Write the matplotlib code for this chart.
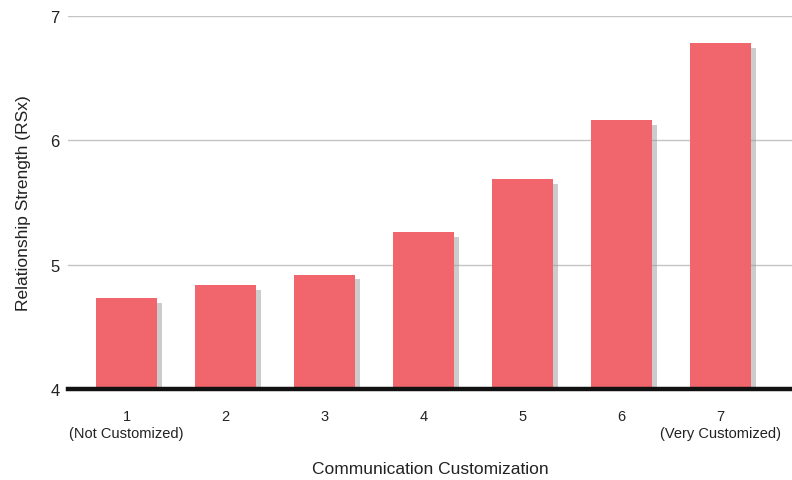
import matplotlib
matplotlib.use("Agg")
import matplotlib.pyplot as plt
import matplotlib.patheffects as pe
import numpy as np

categories = ["1", "2", "3", "4", "5", "6", "7"]
sublabels = ["(Not Customized)", "", "", "", "", "", "(Very Customized)"]
values = [4.73, 4.835, 4.92, 5.26, 5.69, 6.16, 6.78]
yticks = [4, 5, 6, 7]

plt.rcParams['font.family'] = ['Liberation Sans', 'DejaVu Sans']

fig = plt.figure(figsize=(7.92, 4.81), dpi=100)
ax = fig.add_axes([0.0859, 0.189, 0.9141, 0.7757])

x = np.arange(len(categories))
bars = ax.bar(x, np.array(values) - 4, bottom=4, width=0.62, color="#F0666C",
              zorder=3, linewidth=0)
for b in bars:
    b.set_path_effects([pe.SimplePatchShadow(offset=(3.4, -3.4), shadow_rgbFace="#9a9a9a", alpha=0.5),
                        pe.Normal()])

ax.set_ylim(4, 7)
ax.set_xlim(-0.59, 6.72)
ax.set_yticks(yticks)
ax.set_yticklabels([str(v) for v in yticks], fontsize=12, color="#222222")
ax.yaxis.grid(True, color="#c4c4c4", linewidth=1.0, zorder=0)
ax.set_axisbelow(True)
ax.axhline(4, color="#111111", linewidth=3.2, zorder=5, clip_on=False)

labels = [c + ("\n" + s if s else "") for c, s in zip(categories, sublabels)]
ax.set_xticks(x)
ax.set_xticklabels(labels, fontsize=10.5, color="#222222", linespacing=1.3, va="top")
ax.tick_params(axis="x", length=0, pad=14)
ax.tick_params(axis="y", length=0, pad=6)

for s in ax.spines.values():
    s.set_visible(False)

ax.set_xlabel("Communication Customization", fontsize=12.5, color="#222222", labelpad=15)
ax.set_ylabel("Relationship Strength (RSx)", fontsize=12.5, color="#222222", labelpad=14)

fig.savefig("out.png", dpi=100)
